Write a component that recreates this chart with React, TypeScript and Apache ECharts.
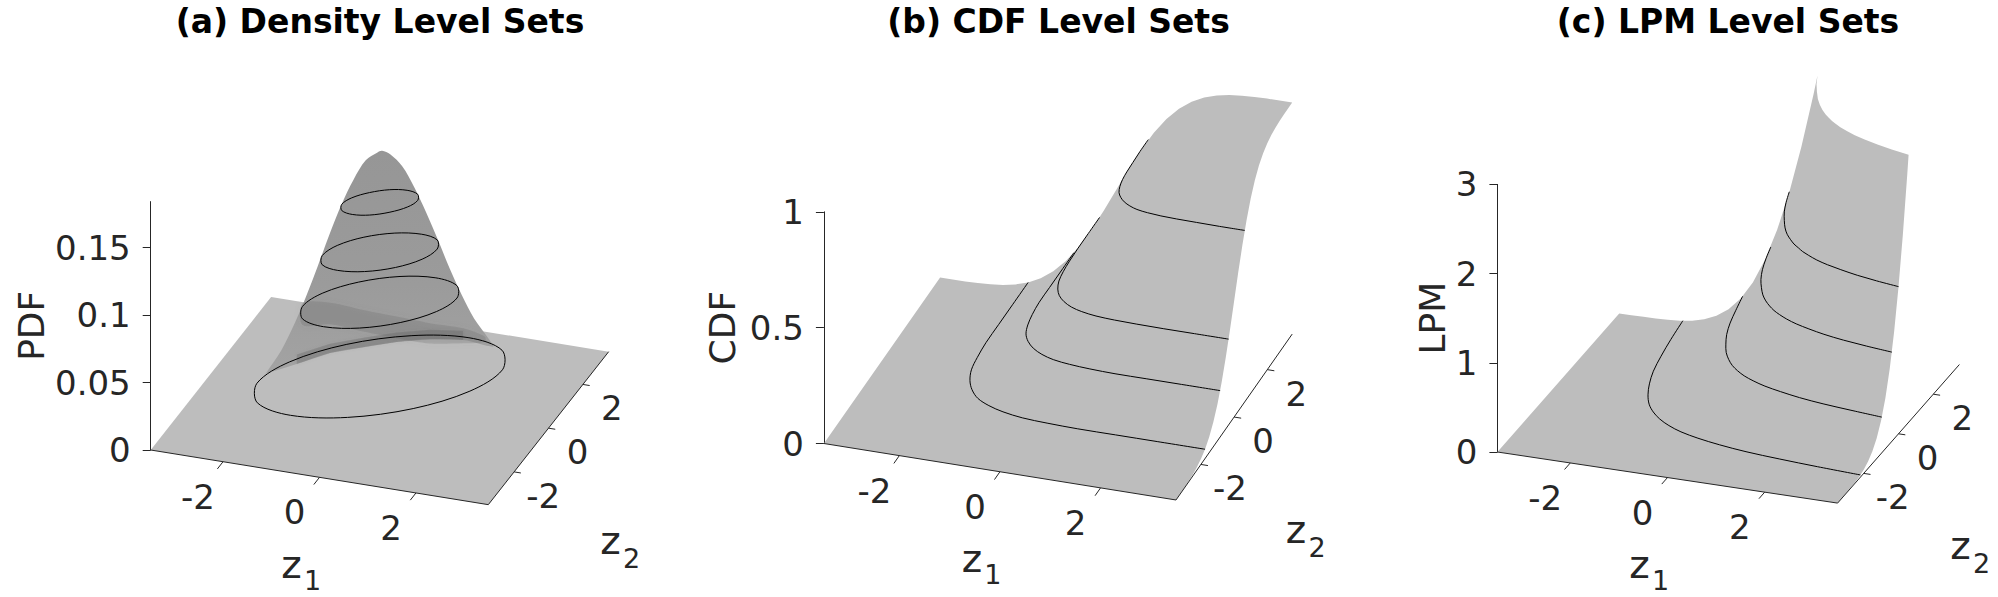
import React, { useEffect, useRef } from "react";
import * as echarts from "echarts";

// ---------- data ----------
const zRange = 3.5;
const planeCorners = [[-3.5, -3.5], [3.5, -3.5], [3.5, 3.5], [-3.5, 3.5]];
const tickZ = [-2, 0, 2];
const pdfTicks = [0, 0.05, 0.1, 0.15];
const cdfTicks = [0, 0.5, 1];
const lpmTicks = [0, 1, 2, 3];

// (a) PDF: outline of the bump (z1, z2, density)
const bumpZ1 = [-2, -1.7, -1.45, -1.26, -1.06, -0.84, -0.64, -0.44, -0.24, -0.06, 0.02, 0.16, 0.36, 0.54, 0.74, 0.94, 1.12, 1.3, 1.5, 1.75];
const bumpZ2 = [-1.05, -0.95, -0.85, -0.76, -0.62, -0.54, -0.4, -0.28, -0.14, 0.04, 0.08, 0.16, 0.3, 0.48, 0.62, 0.76, 0.96, 1.14, 1.28, 1.5];
const bumpPdf = [0.025, 0.043, 0.0635, 0.082, 0.104, 0.128, 0.149, 0.166, 0.179, 0.183, 0.184, 0.181, 0.171, 0.154, 0.134, 0.112, 0.088, 0.067, 0.049, 0.0306];
// shading on the bump, section z2 = 0
const footZ1 = [-2.34, -1.72, -1.03, -0.34, 0.35, 1.04, 1.73, 2.35];
const footH = [0.0068, 0.0173, 0.0294, 0.0377, 0.0456, 0.0516, 0.055, 0.0537];
const bandZ1 = [-1.6, -1.03, -0.34, 0.35, 1.04, 1.73, 2.18];
const bandH = [0.063, 0.0667, 0.0653, 0.0644, 0.0635, 0.0637, 0.0601];
const bandDepth = [0.016, 0.016, 0.016, 0.016, 0.015, 0.011, 0.004];
// level sets of the PDF
const pdfLevels = [0.147, 0.11, 0.073, 0.018];
const pdfRingsZ1 = [
  [0.58, 0.67, 0.58, 0.33, 0, -0.33, -0.58, -0.67, -0.58, -0.33, 0, 0.33],
  [0.88, 1.01, 0.88, 0.51, 0, -0.51, -0.88, -1.01, -0.88, -0.51, 0, 0.51],
  [1.18, 1.36, 1.18, 0.68, 0, -0.68, -1.18, -1.36, -1.18, -0.68, 0, 0.68],
  [1.87, 2.16, 1.87, 1.08, 0, -1.08, -1.87, -2.16, -1.87, -1.08, 0, 1.08],
];
const pdfRingsZ2 = [
  [0.58, 0.33, 0, -0.33, -0.58, -0.67, -0.58, -0.33, 0, 0.33, 0.58, 0.67],
  [0.88, 0.51, 0, -0.51, -0.88, -1.01, -0.88, -0.51, 0, 0.51, 0.88, 1.01],
  [1.18, 0.68, 0, -0.68, -1.18, -1.36, -1.18, -0.68, 0, 0.68, 1.18, 1.36],
  [1.87, 1.08, 0, -1.08, -1.87, -2.16, -1.87, -1.08, 0, 1.08, 1.87, 2.16],
];

// (b)(c) surface edge values along z1 or z2, other coordinate at its maximum
const edgeZ = [-3.5, -3.25, -3, -2.75, -2.5, -2.25, -2, -1.75, -1.5, -1.25, -1, -0.75, -0.5, -0.25, 0, 0.25, 0.5, 0.75, 1, 1.25, 1.5, 1.75, 2, 2.25, 2.5, 2.75, 3, 3.25, 3.5];
const cdfEdge = [0, 0.001, 0.001, 0.003, 0.006, 0.012, 0.023, 0.04, 0.067, 0.106, 0.159, 0.227, 0.309, 0.401, 0.5, 0.599, 0.691, 0.773, 0.841, 0.894, 0.933, 0.96, 0.977, 0.988, 0.994, 0.997, 0.999, 0.999, 1];
const lpmEdgeZ = [-3.5, -3.25, -3, -2.75, -2.5, -2.25, -2, -1.75, -1.5, -1.25, -1, -0.75, -0.5, -0.25, 0, 0.25, 0.5];
const lpmEdge = [0, 0.001, 0.002, 0.005, 0.01, 0.021, 0.041, 0.077, 0.136, 0.23, 0.371, 0.572, 0.847, 1.203, 1.646, 2.177, 2.788];
const lpmCap = 3;
const lpmCapCurve = [0.58, 0.7, 0.83, 0.96, 1.09, 1.22, 1.35, 1.46, 1.57, 1.69, 1.82, 2, 2.21, 2.46, 2.77, 3.11, 3.5];

// level curves: z1 along the list, z2 along the same list reversed
const cdfLevels = [0.04, 0.2, 0.37, 0.74];
const cdfCurves = [
  [-1.75, -1.75, -1.75, -1.75, -1.72, -1.67, -1.56, -1.41, -1.2, -0.91, -0.58, -0.16, 0.35, 0.96, 1.72, 2.56, 3.5],
  [-0.84, -0.84, -0.84, -0.84, -0.81, -0.76, -0.68, -0.55, -0.37, -0.14, 0.13, 0.48, 0.9, 1.41, 2.03, 2.73, 3.5],
  [-0.33, -0.33, -0.33, -0.32, -0.3, -0.26, -0.18, -0.07, 0.09, 0.29, 0.53, 0.84, 1.22, 1.66, 2.2, 2.82, 3.5],
  [0.64, 0.64, 0.65, 0.66, 0.68, 0.72, 0.78, 0.87, 0.99, 1.14, 1.31, 1.54, 1.82, 2.14, 2.54, 3, 3.5],
];
const lpmLevels = [0.025, 0.4, 1, 1.65];
const lpmCurves = [
  [-2.19, -2.11, -2.02, -1.92, -1.79, -1.64, -1.47, -1.27, -1.04, -0.77, -0.45, -0.04, 0.46, 1.05, 1.77, 2.59, 3.5],
  [-0.96, -0.86, -0.76, -0.64, -0.5, -0.36, -0.2, -0.04, 0.14, 0.34, 0.58, 0.88, 1.25, 1.69, 2.22, 2.83, 3.5],
  [-0.38, -0.28, -0.17, -0.04, 0.1, 0.24, 0.39, 0.54, 0.69, 0.86, 1.06, 1.31, 1.62, 1.98, 2.43, 2.94, 3.5],
  [0, 0.11, 0.23, 0.37, 0.5, 0.64, 0.79, 0.92, 1.06, 1.2, 1.37, 1.59, 1.86, 2.18, 2.57, 3.01, 3.5],
];

// ---------- layout and style ----------
const FONT = "DejaVu Sans";
const TEXT = "#262626";
const SURFACE = "#bdbdbd";
type View = { left: number; zero: number; unit: number; max: number; d1: number[]; d2: number[]; name: string; title: string; titleX: number; ticks: number[]; gap: number };
const views: View[] = [
  { left: 150.7, zero: 450, unit: 1350, max: 0.184, d1: [48.23, 7.81], d2: [17.2, 21.86], name: "PDF", title: "(a) Density Level Sets", titleX: 375, ticks: pdfTicks, gap: 101 },
  { left: 823.9, zero: 443.5, unit: 231.7, max: 1, d1: [50.3, 8.07], d2: [16.6, 23.7], name: "CDF", title: "(b) CDF Level Sets", titleX: 1053.5, ticks: cdfTicks, gap: 83 },
  { left: 1497.4, zero: 452, unit: 89.2, max: 3, d1: [48.6, 7.3], d2: [17.4, 19.8], name: "LPM", title: "(c) LPM Level Sets", titleX: 1723, ticks: lpmTicks, gap: 47 },
];

const project = (v: View, z1: number, z2: number, h: number) => [
  (z1 + zRange) * v.d1[0] + (z2 + zRange) * v.d2[0],
  h + (-(z1 + zRange) * v.d1[1] + (z2 + zRange) * v.d2[1]) / v.unit,
];

function base(i: number, z: number, pos: number[]) {
  return { type: "custom", xAxisIndex: i, yAxisIndex: i, z, silent: true, clip: false, data: [[pos[0], pos[1]]] };
}
function area(i: number, pts: number[][], fill: any, z: number, extra: any = {}) {
  return {
    ...base(i, z, pts[0]),
    renderItem: (_: any, api: any) => ({
      type: "polygon",
      shape: { points: pts.map((p) => api.coord(p)), smooth: extra.smooth || 0 },
      style: { fill, shadowBlur: extra.blur || 0, shadowColor: extra.blur ? fill : undefined },
    }),
  };
}
function ring(i: number, pts: number[][], z: number) {
  return {
    ...base(i, z, pts[0]),
    renderItem: (_: any, api: any) => ({
      type: "polygon",
      shape: { points: pts.map((p) => api.coord(p)), smooth: 0.33 },
      style: { fill: "none", stroke: "#000", lineWidth: 1 },
    }),
  };
}
function smoothCurve(i: number, pts: number[][], z: number) {
  return {
    ...base(i, z, pts[0]),
    renderItem: (_: any, api: any) => ({
      type: "polyline",
      shape: { points: pts.map((p) => api.coord(p)), smooth: 0.33 },
      style: { fill: "none", stroke: "#000", lineWidth: 1 },
    }),
  };
}
function straight(i: number, pts: any[], z: number) {
  return {
    type: "line", xAxisIndex: i, yAxisIndex: i, z, silent: true, clip: false,
    data: pts, symbol: "none", showSymbol: false, connectNulls: false,
    lineStyle: { color: TEXT, width: 1 }, emphasis: { disabled: true },
  };
}
function label(i: number, pos: number[], dx: number, dy: number, text: string, size = 34) {
  return {
    ...base(i, 9, pos),
    renderItem: (_: any, api: any) => {
      const c = api.coord(pos);
      return {
        type: "text", x: c[0] + dx, y: c[1] + dy,
        style: { text, fontSize: size, fontFamily: FONT, fill: TEXT, align: "center", verticalAlign: "middle" },
      };
    },
  };
}

function frame(i: number) {
  const v = views[i];
  const ticks1: any[] = [];
  const ticks2: any[] = [];
  const out: any[] = [];
  tickZ.forEach((t) => {
    ticks1.push(project(v, t, -zRange, 0), project(v, t, -zRange - 0.33, 0), null);
    ticks2.push(project(v, zRange, t, 0), project(v, zRange + 0.14, t, 0), null);
    out.push(label(i, project(v, t, -zRange, 0), -25, 35, String(t)));
    out.push(label(i, project(v, zRange, t, 0), 29, 24, String(t)));
  });
  out.push(straight(i, [project(v, -zRange, -zRange, 0), project(v, zRange, -zRange, 0), project(v, zRange, zRange, 0)], 6));
  out.push(straight(i, ticks1, 6));
  out.push(straight(i, ticks2, 6));
  const a1 = project(v, 0, -zRange, 0);
  const a2 = project(v, zRange, 0, 0);
  out.push(label(i, a1, -28, 87, "z", 39), label(i, a1, -7, 103, "1", 27));
  out.push(label(i, a2, 62, 112, "z", 39), label(i, a2, 83, 130, "2", 27));
  return out;
}

function panelA() {
  const v = views[0];
  const plane = planeCorners.map(([a, b]) => project(v, a, b, 0));
  const sil = bumpZ1.map((a, k) => project(v, a, bumpZ2[k], bumpPdf[k]));
  const foot = footZ1.map((a, k) => project(v, a, 0, footH[k]));
  const footHi = footZ1.map((a, k) => project(v, a, 0, footH[k] + 0.007));
  const upper = bandZ1.map((a, k) => project(v, a, 0, bandH[k]));
  const lowerBand = bandZ1.map((a, k) => project(v, a, 0, bandH[k] - bandDepth[k]));
  const gradient = new echarts.graphic.LinearGradient(0, 0, 0, 1, [
    { offset: 0, color: "#969696" },
    { offset: 0.6, color: "#9b9b9b" },
    { offset: 1, color: "#a3a3a3" },
  ]);
  const s: any[] = [
    area(0, plane, SURFACE, 2),
    area(0, [...sil, ...foot.slice().reverse()], gradient, 3, { smooth: 0.33 }),
    area(0, [...upper, ...lowerBand.slice().reverse()], "rgba(100,100,100,0.24)", 4, { blur: 6, smooth: 0.3 }),
    area(0, [...foot.slice(1, -1), ...footHi.slice(1, -1).reverse()], "rgba(95,95,95,0.3)", 4, { blur: 3 }),
  ];
  pdfLevels.forEach((lv, r) => {
    s.push(ring(0, pdfRingsZ1[r].map((a, k) => project(v, a, pdfRingsZ2[r][k], lv)), 5));
  });
  return [...s, ...frame(0)];
}

function panelB() {
  const v = views[1];
  const outline = [
    project(v, -zRange, -zRange, 0),
    ...edgeZ.map((z, k) => project(v, zRange, z, cdfEdge[k])),
    ...edgeZ.map((z, k) => project(v, z, zRange, cdfEdge[k])).reverse(),
  ];
  const s: any[] = [area(1, outline, SURFACE, 2)];
  cdfLevels.forEach((lv, r) => {
    const l = cdfCurves[r];
    s.push(smoothCurve(1, l.map((a, k) => project(v, a, l[l.length - 1 - k], lv)), 5));
  });
  return [...s, ...frame(1)];
}

function panelC() {
  const v = views[2];
  const n = lpmCapCurve.length;
  const outline = [
    project(v, -zRange, -zRange, 0),
    ...lpmEdgeZ.map((z, k) => project(v, zRange, z, lpmEdge[k])),
    ...lpmCapCurve.map((a, k) => project(v, lpmCapCurve[n - 1 - k], a, lpmCap)),
    ...lpmEdgeZ.map((z, k) => project(v, z, zRange, lpmEdge[k])).reverse(),
  ];
  const s: any[] = [area(2, outline, SURFACE, 2)];
  lpmLevels.forEach((lv, r) => {
    const l = lpmCurves[r];
    s.push(smoothCurve(2, l.map((a, k) => project(v, a, l[l.length - 1 - k], lv)), 5));
  });
  return [...s, ...frame(2)];
}

export default function App() {
  const ref = useRef<HTMLDivElement>(null);
  useEffect(() => {
    const chart = echarts.init(ref.current!, null, { renderer: "svg" });
    chart.setOption({
      animation: false,
      backgroundColor: "#fff",
      title: views.map((v) => ({
        text: v.title, left: v.titleX, top: 0, textAlign: "center",
        textStyle: { fontFamily: FONT, fontWeight: "bold", fontSize: 33, color: "#000" },
      })),
      grid: views.map((v) => {
        const w = 2 * zRange * (v.d1[0] + v.d2[0]);
        const h = v.max * v.unit;
        return { left: v.left, width: w, top: v.zero - h, height: h, containLabel: false };
      }),
      xAxis: views.map((v, i) => ({
        type: "value", gridIndex: i, show: false, min: 0, max: 2 * zRange * (v.d1[0] + v.d2[0]), splitLine: { show: false },
      })),
      yAxis: views.map((v, i) => ({
        type: "value", gridIndex: i, min: 0, max: v.max, position: "left",
        name: v.name, nameLocation: "middle", nameGap: v.gap,
        nameTextStyle: { fontFamily: FONT, fontSize: 36, color: TEXT },
        axisLine: { show: true, onZero: false, lineStyle: { color: TEXT, width: 1 } },
        axisTick: { show: true, length: 8, inside: false, lineStyle: { color: TEXT, width: 1 }, customValues: v.ticks },
        axisLabel: { show: true, margin: 20, fontFamily: FONT, fontSize: 34, color: TEXT, customValues: v.ticks },
        splitLine: { show: false },
      })),
      series: [...panelA(), ...panelB(), ...panelC()],
    });
    return () => chart.dispose();
  }, []);
  return <div ref={ref} style={{ position: "fixed", left: 0, top: 0, width: 1998, height: 597 }} />;
}
